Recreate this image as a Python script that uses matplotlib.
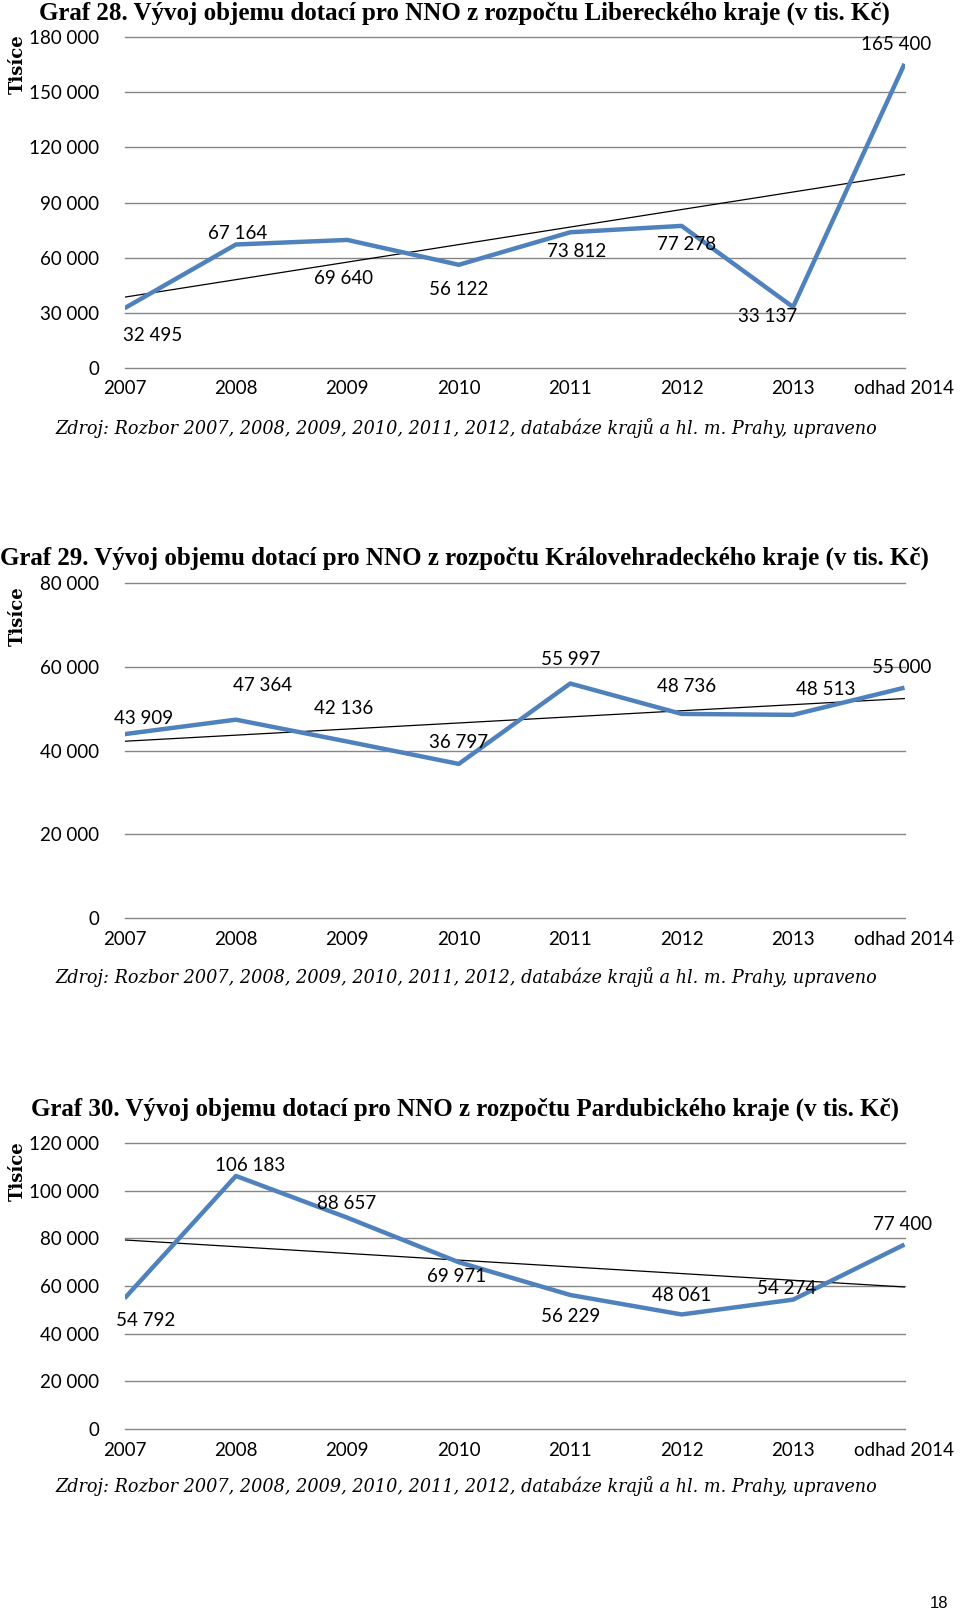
import numpy as np
import matplotlib
matplotlib.use("Agg")
import matplotlib.pyplot as plt

# Data (tis. Kč)
years = ["2007", "2008", "2009", "2010", "2011", "2012", "2013", "odhad 2014"]

liberec = [32495, 67164, 69640, 56122, 73812, 77278, 33137, 165400]
hradec = [43909, 47364, 42136, 36797, 55997, 48736, 48513, 55000]
pardubice = [54792, 106183, 88657, 69971, 56229, 48061, 54274, 77400]

titles = [
    "Graf 28. Vývoj objemu dotací pro NNO z rozpočtu Libereckého kraje (v tis. Kč)",
    "Graf 29. Vývoj objemu dotací pro NNO z rozpočtu Královehradeckého kraje (v tis. Kč)",
    "Graf 30. Vývoj objemu dotací pro NNO z rozpočtu Pardubického kraje (v tis. Kč)",
]
source = "Zdroj: Rozbor 2007, 2008, 2009, 2010, 2011, 2012, databáze krajů a hl. m. Prahy, upraveno"

# label offsets in pixels (dx, dy), dy positive = up
offs1 = [(28, -27), (2, 11), (-4, -39), (0, -25), (6, -19), (5, -19), (-25, -9), (-8, 19)]
offs2 = [(19, 16), (27, 34), (-4, 33), (0, 21), (0, 24), (5, 27), (33, 25), (-3, 20)]
offs3 = [(21, -22), (14, 10), (-1, 14), (-2, -14), (0, -22), (0, 19), (-6, 11), (-2, 20)]

tick_font = "Lato"
label_font = "Lato"
blue = "#4F81BD"

fig = plt.figure(figsize=(9.6, 16.14), dpi=100)


def draw(rect, values, ymax, ystep, offs):
    ax = fig.add_axes(rect)
    x = np.arange(len(values))
    for y in np.arange(0, ymax + 1, ystep):
        ax.axhline(y, color="#868686", lw=1.0, zorder=1, clip_on=False)
    coef = np.polyfit(x, values, 1)
    ax.plot(x, np.polyval(coef, x), color="black", lw=0.9, zorder=2)
    ax.plot(x, values, color=blue, lw=3.2, zorder=3, solid_capstyle="butt")
    for xi, v, (dx, dy) in zip(x, values, offs):
        ax.annotate(f"{v:,}".replace(",", " "), (xi, v), xytext=(dx, dy),
                    textcoords="offset pixels", ha="center", va="center",
                    fontsize=13.5, family=label_font, color="black", zorder=4)
    ax.set_xlim(0, len(values) - 1)
    ax.set_ylim(0, ymax)
    ax.set_xticks(x)
    ax.set_xticklabels(years, family=tick_font, fontsize=13.5)
    yt = np.arange(0, ymax + 1, ystep)
    ax.set_yticks(yt)
    ax.set_yticklabels([f"{int(v):,}".replace(",", " ") for v in yt],
                       family=tick_font, fontsize=13.5)
    ax.tick_params(length=0, pad=18)
    ax.tick_params(axis="x", pad=9)
    for s in ax.spines.values():
        s.set_visible(False)
    ax.patch.set_alpha(0)
    return ax


L, W = 124.5 / 960, 780 / 960
H = 1614

draw([L, 1 - 368 / H, W, 331 / H], liberec, 180000, 30000, offs1)
draw([L, 1 - 918 / H, W, 335 / H], hradec, 80000, 20000, offs2)
draw([L, 1 - 1429 / H, W, 286 / H], pardubice, 120000, 20000, offs3)

title_kw = dict(family="Liberation Serif", fontweight="bold", fontsize=18,
                va="center", ha="left")
fig.text(39 / 960, 1 - 13 / H, titles[0], **title_kw)
fig.text(0 / 960, 1 - 558 / H, titles[1], **title_kw)
fig.text(31 / 960, 1 - 1109 / H, titles[2], **title_kw)

src_kw = dict(family="DejaVu Serif", style="italic", fontsize=12.7,
              va="center", ha="left")
for yy in (428, 977, 1486):
    fig.text(55 / 960, 1 - yy / H, source, **src_kw)

tis_kw = dict(family="DejaVu Serif", fontweight="bold", fontsize=13,
              rotation=90, va="center", ha="center")
for yy in (64, 616, 1171):
    fig.text(18 / 960, 1 - yy / H, "Tisíce", **tis_kw)

fig.text(948 / 960, 1 - 1603 / H, "18", family="Liberation Sans", fontsize=12,
         ha="right", va="center")

fig.savefig("out.png", dpi=100, facecolor="white")
